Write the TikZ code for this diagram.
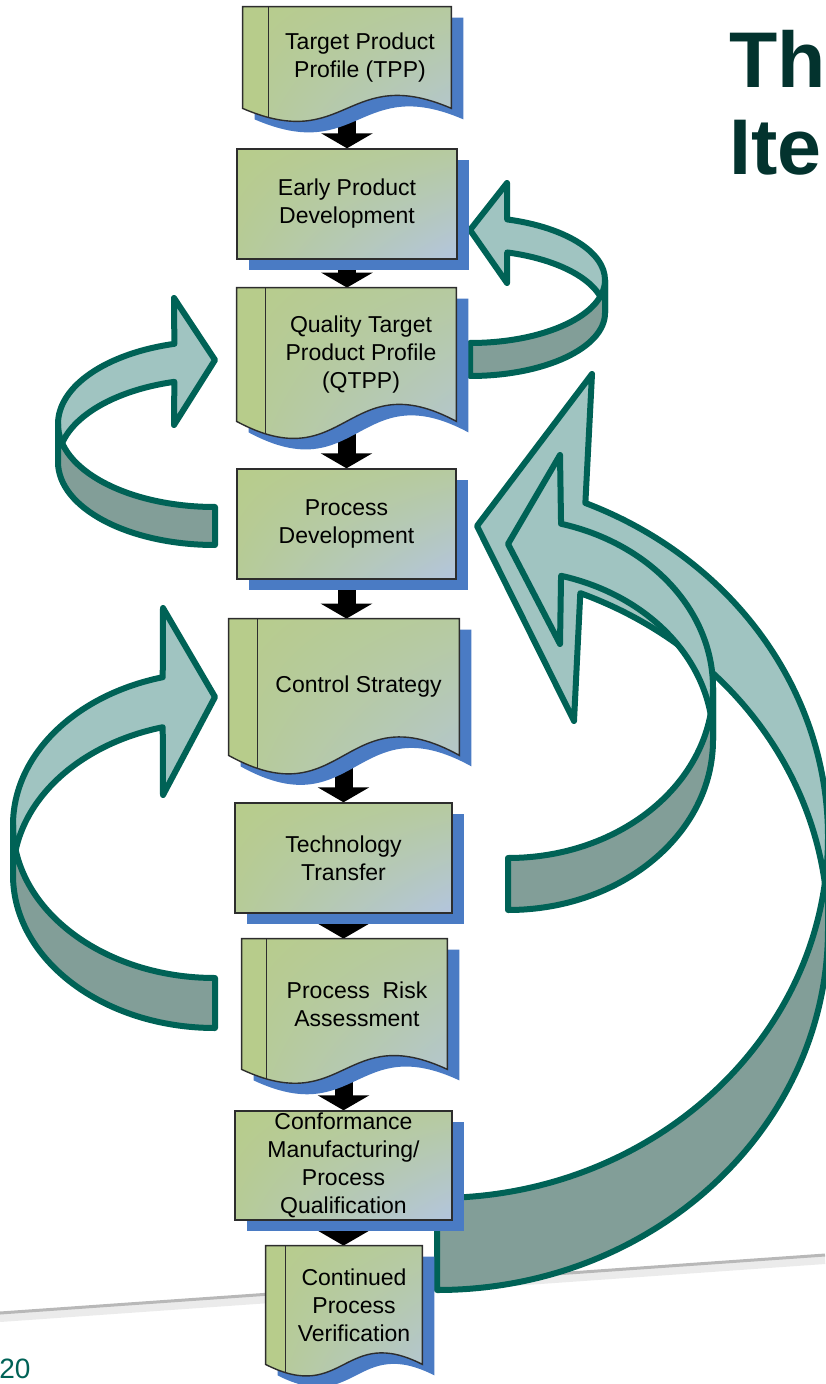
\documentclass[tikz,border=0pt]{standalone}
\usepackage{fontspec}
\setmainfont{Liberation Sans}
\usetikzlibrary{arrows.meta,calc,shadings}

\definecolor{boxgreen}{RGB}{183,204,139}
\definecolor{boxblue}{RGB}{179,197,222}
\definecolor{shadowblue}{RGB}{74,123,196}
\definecolor{boxline}{RGB}{45,45,45}
\definecolor{loopline}{RGB}{0,98,86}
\definecolor{loopface}{RGB}{160,196,193}
\definecolor{loopunder}{RGB}{130,158,152}
\definecolor{titlegreen}{RGB}{3,51,46}

\pgfdeclarelayer{back}
\pgfdeclarelayer{boxes}
\pgfsetlayers{back,boxes,main}

\tikzset{
  boxfill/.style={upper left=boxgreen, upper right=boxgreen!75!boxblue,
    lower left=boxgreen!85!boxblue, lower right=boxblue},
  boxtext/.style={align=center, inner sep=0pt,
    font=\fontsize{11.5}{14}\selectfont},
  stepbox/.style={boxtext, boxfill, draw=boxline, line width=0.7pt,
    preaction={fill=shadowblue, transform canvas={shift={(12,11)}}}},
  flowarrow/.style={line width=9pt, -{Triangle[width=25.5pt, length=7.5pt]}},
  ribbontop/.style={fill=loopface, draw=loopline, line width=3pt, line join=round},
  ribbonside/.style={fill=loopunder, draw=loopline, line width=3pt, line join=round}
}

% document outline: node, strip width, wave
\newcommand\docpath[3]{($(#1.north west)+(-#2,0)$) -- (#1.north east) -- (#1.south east)
  .. controls ($(#1.south)+(-#2/2,-#3)$) and ($(#1.south)+(-#2/2,#3)$)
  .. ($(#1.south west)+(-#2,0)$) -- cycle}
\newcommand\docshape[3]{%
  \begin{pgfonlayer}{boxes}
    \fill[shadowblue, transform canvas={shift={(12,11)}}] \docpath{#1}{#2}{#3};
    \begin{scope}
      \clip \docpath{#1}{#2}{#3};
      \shade[boxfill] \docpath{#1}{#2}{#3};
      \fill[boxgreen] ($(#1.north west)+(-#2,0)$) rectangle ($(#1.south west)+(0,#3)$);
      \draw[boxline, line width=0.7pt] (#1.north west) -- ($(#1.south west)+(0,#3)$);
    \end{scope}
    \draw[boxline, line width=0.7pt] \docpath{#1}{#2}{#3};
  \end{pgfonlayer}}

\begin{document}
\begin{tikzpicture}[x=0.5pt, y=-0.5pt]
  \useasboundingbox (0,0) rectangle (825,1384);

  \node[boxtext, minimum width=91pt, minimum height=50.5pt] (tpp) at (360,57.5)
    {Target Product\\Profile (TPP)};
  \node[stepbox, minimum width=110pt, minimum height=55pt] (epd) at (347,204)
    {Early Product\\Development};
  \node[boxtext, minimum width=95pt, minimum height=66.5pt] (qtpp) at (361,354.5)
    {Quality Target\\Product Profile\\(QTPP)};
  \node[stepbox, minimum width=109.5pt, minimum height=55pt] (pd) at (346.5,524)
    {Process\\Development};
  \node[boxtext, minimum width=100.5pt, minimum height=68pt] (cs) at (358.5,687)
    {Control Strategy};
  \node[stepbox, minimum width=108.5pt, minimum height=55pt] (tt) at (343.5,858)
    {Technology\\Transfer};
  \node[boxtext, minimum width=90pt, minimum height=65pt] (pra) at (357,1004)
    {Process~~Risk\\Assessment};
  \node[stepbox, minimum width=108.5pt, minimum height=54.5pt] (cmpq) at (343.5,1165.5)
    {Conformance\\Manufacturing/\\Process\\Qualification};
  \node[boxtext, minimum width=68pt, minimum height=59pt] (cpv) at (354,1305)
    {Continued\\Process\\Verification};

  \docshape{tpp}{26}{45}
  \docshape{qtpp}{29}{59}
  \docshape{cs}{29}{64}
  \docshape{pra}{25}{48}
  \docshape{cpv}{20}{40}

  \begin{pgfonlayer}{back}
    % slide rule
    \draw[black!8, line width=4pt] (0,1318) -- (825,1260);
    \draw[black!28, line width=1.5pt] (0,1313) -- (825,1255);

    \draw[flowarrow] (tpp.south -| epd.north) -- (epd.north);
    \draw[flowarrow] (epd.south) -- (epd.south |- qtpp.north);
    \draw[flowarrow] (qtpp.south -| pd.north) -- (pd.north);
    \draw[flowarrow] (pd.south) -- (pd.south |- cs.north);
    \draw[flowarrow] (cs.south -| tt.north) -- (tt.north);
    \draw[flowarrow] (tt.south) -- (tt.south |- pra.north);
    \draw[flowarrow] (pra.south -| cmpq.north) -- (cmpq.north);
    \draw[flowarrow] (cmpq.south) -- (cmpq.south |- cpv.north);

    % loop back to the early product development
    \begin{scope}[shift={(470,280)}]
      \path[ribbontop] (37,-97) -- (0,-50) -- (37,3)
        -- ($(-74:135 and 63)+(0,33)$)
        arc[start angle=-74, end angle=0, x radius=135, y radius=63]
        -- ++(0,-33)
        arc[start angle=0, end angle=-74, x radius=135, y radius=63] -- cycle;
      \path[ribbonside] (0:135 and 63)
        arc[start angle=0, end angle=90, x radius=135, y radius=63]
        -- ++(0,33)
        arc[start angle=90, end angle=0, x radius=135, y radius=63] -- cycle;
    \end{scope}

    % loop back to the QTPP
    \begin{scope}[shift={(215,424)}]
      \path[ribbontop] (-41,-126) -- (0,-64) -- (-41,1)
        -- ($(-105:157 and 83)+(0,38)$)
        arc[start angle=-105, end angle=-180, x radius=157, y radius=83]
        -- ++(0,-38)
        arc[start angle=-180, end angle=-105, x radius=157, y radius=83] -- cycle;
      \path[ribbonside] (180:157 and 83)
        arc[start angle=180, end angle=90, x radius=157, y radius=83]
        -- ++(0,38)
        arc[start angle=90, end angle=180, x radius=157, y radius=83] -- cycle;
    \end{scope}

    % loop back to the control strategy
    \begin{scope}[shift={(215,825)}]
      \path[ribbontop] (-52,-217) -- (0,-128) -- (-52,-30)
        -- ($(-105:202 and 153)+(0,50)$)
        arc[start angle=-105, end angle=-180, x radius=202, y radius=153]
        -- ++(0,-50)
        arc[start angle=-180, end angle=-105, x radius=202, y radius=153] -- cycle;
      \path[ribbonside] (180:202 and 153)
        arc[start angle=180, end angle=90, x radius=202, y radius=153]
        -- ++(0,50)
        arc[start angle=90, end angle=180, x radius=202, y radius=153] -- cycle;
    \end{scope}

    % big loop back to the process development
    \begin{scope}[shift={(437,837)}]
      \path[ribbontop] (155,-463) -- (40,-311) -- (137,-116)
        -- ($(-68.5:391 and 361)+(0,92)$)
        arc[start angle=-68.5, end angle=0, x radius=391, y radius=361]
        -- ++(0,-92)
        arc[start angle=0, end angle=-67.7, x radius=391, y radius=361] -- cycle;
      \path[ribbonside] (0:391 and 361)
        arc[start angle=0, end angle=90, x radius=391, y radius=361]
        -- ++(0,92)
        arc[start angle=90, end angle=0, x radius=391, y radius=361] -- cycle;
    \end{scope}

    % loop from the technology transfer
    \begin{scope}[shift={(508,688)}]
      \path[ribbontop] (52,-233) -- (0,-144) -- (52,-44)
        -- ($(-75:205 and 170)+(0,52)$)
        arc[start angle=-75, end angle=0, x radius=205, y radius=170]
        -- ++(0,-52)
        arc[start angle=0, end angle=-75, x radius=205, y radius=170] -- cycle;
      \path[ribbonside] (0:205 and 170)
        arc[start angle=0, end angle=90, x radius=205, y radius=170]
        -- ++(0,52)
        arc[start angle=90, end angle=0, x radius=205, y radius=170] -- cycle;
    \end{scope}
  \end{pgfonlayer}

  \node[anchor=base west, inner sep=0pt, text=titlegreen,
    font=\fontsize{39.5}{44}\selectfont\bfseries] (titletop) at (729,88) {Th};
  \node[anchor=base west, inner sep=0pt, text=titlegreen,
    font=\fontsize{39.5}{44}\selectfont\bfseries] (titlebottom) at (729,175) {Ite};
  \node[anchor=base west, inner sep=0pt, text=loopline,
    font=\fontsize{14}{16}\selectfont] (pagenum) at (-1,1378) {20};
\end{tikzpicture}
\end{document}
